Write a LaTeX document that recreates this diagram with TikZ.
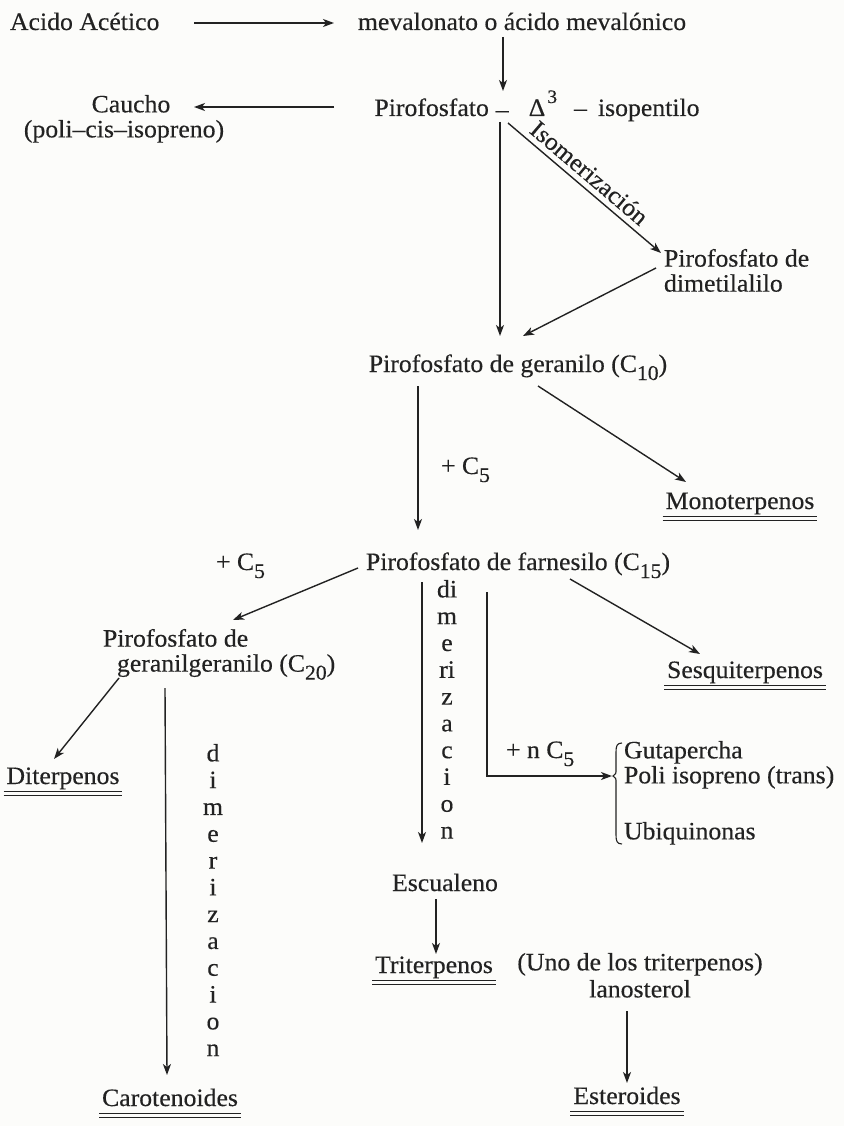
\documentclass[tikz,border=0pt]{standalone}
\usepackage{fontspec}
\setmainfont{Liberation Serif}[FakeStretch=1.03,FakeBold=0.35]
\usetikzlibrary{arrows.meta,calc}
\definecolor{ink}{RGB}{34,34,34}
\definecolor{paper}{RGB}{252,252,250}
\newcommand\sbs[1]{\raisebox{-8pt}{\fontsize{21}{21}\selectfont #1}}
\begin{document}
\begin{tikzpicture}[x=1pt,y=-1pt,
  every node/.style={inner sep=0pt, outer sep=0pt, text=ink, font=\fontsize{25}{25}\selectfont},
  arr/.style={draw=ink, line width=1.4pt, -{Stealth[length=11pt,width=8pt,inset=3pt]}},
  ln/.style={draw=ink, line width=1.3pt},
  ul/.style={draw=ink, line width=1pt},
  stack/.style={align=center, anchor=north, font=\fontsize{25}{26.8}\selectfont}]
\fill[paper] (0,0) rectangle (844,1126);
\useasboundingbox (0,0) rectangle (844,1126);

% ---- nodes ----
\node[anchor=base west] (acido) at (10,30) {Acido Acético};
\node[anchor=base] (meval) at (522,30) {mevalonato o ácido mevalónico};
\node[anchor=base] (piro) at (537,116) {Pirofosfato\hspace{7pt}\raisebox{-1.5pt}{–}\hspace{20pt}Δ\hspace{2pt}\raisebox{13pt}{\fontsize{19}{19}\selectfont 3}\hspace{17pt}–\hspace{11pt}isopentilo};
\node[anchor=north, align=center] (caucho) at (124,95) {\hspace*{14pt}Caucho\\(poli–cis–isopreno)};
\node[anchor=north west, align=left] (dimet) at (664,249) {Pirofosfato de\\dimetilalilo};
\node[anchor=base] (ger) at (518,372) {Pirofosfato de geranilo (C\sbs{10})};
\node[anchor=base west] (c5a) at (441,474) {+ C\sbs{5}};
\node[anchor=base] (mono) at (740,509) {Monoterpenos};
\node[anchor=base] (far) at (518,570) {Pirofosfato de farnesilo (C\sbs{15})};
\node[anchor=base west] (c5b) at (216,570) {+ C\sbs{5}};
\node[anchor=north west, align=left] (gg) at (103,629) {Pirofosfato de\\\hspace*{14pt}geranilgeranilo (C\sbs{20})};
\node[anchor=base] (dit) at (63,784) {Diterpenos};
\node[anchor=base] (sesq) at (745,678) {Sesquiterpenos};
\node[anchor=north west, align=left] (items) at (624,741) {Gutapercha\\Poli isopreno (trans)\\[31pt]Ubiquinonas};
\node[anchor=base west] (c5c) at (506,758) {+ n C\sbs{5}};
\node[stack] (dim2) at (447,580) {di\\m\\e\\ri\\z\\a\\c\\i\\o\\n};
\node[stack] (dim1) at (213,744) {d\\i\\m\\e\\r\\i\\z\\a\\c\\i\\o\\n};
\node[anchor=base] (esc) at (445,891) {Escualeno};
\node[anchor=base] (tri) at (434,973) {Triterpenos};
\node[anchor=north, align=center, font=\fontsize{25}{27}\selectfont] (uno) at (640,953) {(Uno de los triterpenos)\\lanosterol};
\node[anchor=base] (caro) at (170,1106) {Carotenoides};
\node[anchor=base] (est) at (627,1104) {Esteroides};

% ---- connectors ----
\draw[arr] ($(acido.base west)+(184,-7)$) -- ($(meval.base)+(-188,-7)$);
\draw[arr] ($(meval.base)+(-19,7)$) -- ($(piro.base)+(-34,-25)$);
\draw[arr] ($(piro.base)+(-203,-9)$) -- ($(caucho.north)+(70,12)$);
\draw[arr] ($(piro.base)+(-37,6)$) -- ($(ger.base)+(-18,-36)$);
\draw[arr] ($(piro.base)+(-29,7)$) -- node[pos=0.47, above=6pt, sloped] {Isomerización} ($(dimet.north west)+(-3,4)$);
\draw[arr] ($(dimet.north west)+(-8,19)$) -- ($(ger.base)+(5,-36)$);
\draw[arr] ($(ger.base)+(-100,14)$) -- ($(far.base)+(-100,-40)$);
\draw[arr] ($(ger.base)+(20,14)$) -- ($(mono.base)+(-54,-27)$);
\draw[arr] ($(far.base)+(-160,-2)$) -- ($(gg.north west)+(130,-9)$);
\draw[arr] ($(far.base)+(52,9)$) -- ($(sesq.base)+(-45,-24)$);
\draw[arr] ($(far.base)+(-96,12)$) -- ($(esc.base)+(-23,-48)$);
\draw[arr] ($(far.base)+(-31,22)$) |- ($(items.north west)+(-12,35)$);
\draw[arr] ($(gg.north west)+(16,49)$) -- ($(dit.base)+(-9,-25)$);
\draw[arr] ($(gg.north west)+(62,59)$) -- ($(caro.base)+(-3,-31)$);
\draw[arr] ($(esc.base)+(-9,8)$) -- ($(tri.base)+(2,-19)$);
\draw[arr] ($(uno.north)+(-13,58)$) -- ($(est.base)+(0,-21)$);

% ---- brace ----
\begin{scope}[shift={(items.north west)}]
\draw[ln, line width=1.1pt] (-2,2) .. controls (-7,2) and (-8,5) .. (-8,11) -- (-8,28)
  .. controls (-8,33) .. (-11,35) .. controls (-8,37) .. (-8,42) -- (-8,94)
  .. controls (-8,100) and (-7,103) .. (-2,103);
\end{scope}

% ---- double underlines ----
\foreach \n in {mono,sesq,dit,tri,caro,est}{
  \draw[ul] ($(\n.base west)+(-3,7)$) -- ($(\n.base east)+(3,7)$);
  \draw[ul] ($(\n.base west)+(-3,11.5)$) -- ($(\n.base east)+(3,11.5)$);
}
\end{tikzpicture}
\end{document}
